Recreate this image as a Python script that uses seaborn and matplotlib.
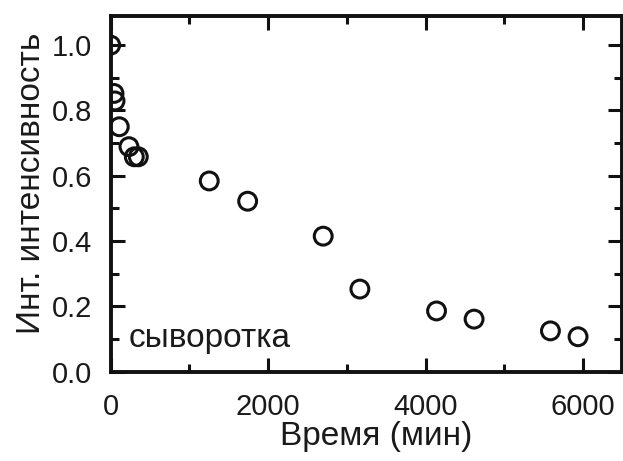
import matplotlib
matplotlib.use("Agg")
import matplotlib.pyplot as plt
import seaborn as sns
import pandas as pd
from matplotlib.ticker import MultipleLocator

time_min = [0, 42, 55, 109, 232, 300, 351, 1252, 1740, 2700, 3166, 4140, 4617, 5587, 5938]
intensity = [1.0, 0.852, 0.829, 0.75, 0.689, 0.658, 0.658, 0.584, 0.522, 0.415, 0.253, 0.186, 0.161, 0.125, 0.107]
x_ticks = [0, 2000, 4000, 6000]
y_ticks = [0.0, 0.2, 0.4, 0.6, 0.8, 1.0]

sns.set_theme(style="ticks")
plt.rcParams['font.family'] = ['Liberation Sans', 'DejaVu Sans']

df = pd.DataFrame({"t": time_min, "I": intensity})

fig = plt.figure(figsize=(6.23, 4.61), dpi=100)
ax = fig.add_axes([110.7/623, 1 - 371.7/461, (621.5-110.7)/623, (371.7-15.7)/461])

sns.scatterplot(data=df, x="t", y="I", ax=ax, marker="o", s=165,
                facecolor="none", edgecolor="#111111", linewidth=2.2, zorder=3, clip_on=True)

ax.set_xlim(0, 6490)
ax.set_ylim(0, 1.09)
ax.set_xticks(x_ticks)
ax.set_yticks(y_ticks)
ax.set_xticklabels([str(v) for v in x_ticks])
ax.set_yticklabels([f"{v:.1f}" for v in y_ticks])
ax.xaxis.set_minor_locator(MultipleLocator(1000))
ax.yaxis.set_minor_locator(MultipleLocator(0.1))

for s in ax.spines.values():
    s.set_linewidth(2.8)
    s.set_color("#111111")
ax.tick_params(which="both", direction="in", top=True, right=True, width=2.2, color="#111111")
ax.tick_params(which="major", length=10, labelsize=21, labelcolor="#1a1a1a")
ax.tick_params(which="minor", length=5.5)
ax.tick_params(axis="x", which="major", pad=15)
ax.tick_params(axis="y", which="major", pad=13.5)

ax.set_xlabel("Время (мин)", fontsize=24, color="#1a1a1a")
ax.set_ylabel("Инт. интенсивность", fontsize=24, color="#1a1a1a")
ax.xaxis.set_label_coords(0.519, -0.138)
ax.yaxis.set_label_coords(-0.1247, 0.529)

ax.text(0.035, 0.07, "сыворотка", transform=ax.transAxes, fontsize=24, color="#1a1a1a",
        ha="left", va="baseline")

fig.savefig("out.png", dpi=100)
